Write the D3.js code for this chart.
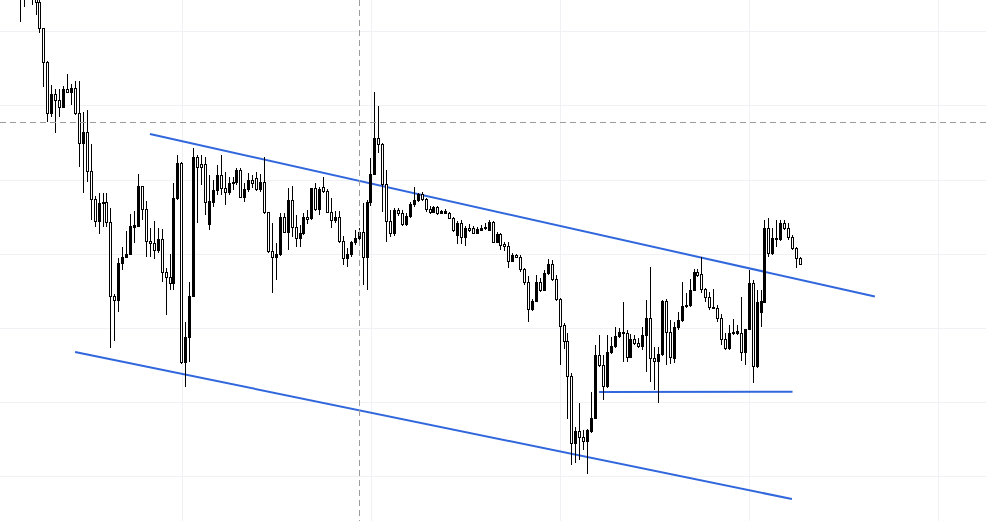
<!DOCTYPE html>
<html><head><meta charset="utf-8">
<script src="https://cdn.jsdelivr.net/npm/d3@7"></script>
<style>html,body{margin:0;padding:0;background:#fff;overflow:hidden}</style>
</head><body><svg id="chart" width="986" height="521"></svg>
<script>
// price units (arbitrary), bar index 0..198
const opens = [551,536,526,541,524,519,493,459,408,427, 421,414,432,429,433,408,378,389,350,322, 300,319,319,299,225,221,258,264,267,294, 295,335,312,280,278,271,282,249,244,238, 323,358,159,184,225,364,357,357,297,319, 331,346,333,329,338,339,351,324,332,341, 343,332,339,309,270,264,267,304,289,321, 294,283,288,304,303,333,312,334,330,309, 301,304,280,263,267,279,283,289,264,319, 347,383,377,337,300,288,311,308,297,305, 317,321,327,322,312,309,314,308,308,308, 303,286,298,284,293,293,288,291,293,291, 299,279,287,277,275,260,266,264,252,239, 212,220,239,231,248,257,242,222,196,180, 145,78,90,84,80,90,103,166,156,135, 169,175,185,189,188,164,182,178,175,186, 203,163,160,167,220,189,163,194,201,215, 216,231,249,247,232,224,214,213,203,182, 173,189,188,188,169,192,238,155,209,219, 293,268,283,282,298,293,284,273,263];
const highs = [556,541,548,546,531,523,493,460,436,432, 432,435,447,437,440,440,409,411,377,325, 328,328,328,313,227,263,274,290,307,310, 347,335,320,293,300,293,292,253,267,338, 366,359,199,239,373,366,366,364,346,341, 356,366,349,344,344,353,353,338,348,346, 349,347,364,309,298,278,308,308,333,335, 306,296,308,311,333,338,334,344,332,323, 310,310,285,273,280,291,293,318,321,363, 429,415,378,351,311,313,313,311,308,319, 334,328,329,323,315,315,315,311,312,309, 304,300,301,295,297,295,294,296,298,301, 300,289,288,279,279,268,267,266,253,245, 222,246,243,251,262,261,246,223,198,188, 148,94,118,91,92,129,176,186,166,186, 184,194,193,219,191,187,186,183,194,221, 254,174,174,221,222,201,199,209,239,228, 242,252,252,264,233,229,232,216,207,188, 196,202,196,224,192,251,241,231,231,301, 303,293,301,301,301,298,286,274,264];
const lows = [499,514,522,516,506,488,434,399,404,388, 404,413,429,416,406,354,328,339,301,294, 287,294,294,173,180,209,251,264,266,278, 295,301,264,264,262,268,239,206,231,231, 321,157,134,159,224,298,336,306,291,314, 326,326,316,326,331,336,323,319,329,333, 330,329,307,268,228,241,265,288,271,284, 274,274,286,297,301,310,306,328,308,293, 298,278,256,254,264,276,280,236,231,315, 346,368,309,279,284,285,305,295,295,303, 314,319,320,309,307,308,306,307,307,302, 289,277,277,275,289,287,287,290,291,290, 278,278,271,270,253,259,263,249,236,199, 210,219,229,230,246,240,220,156,172,102, 56,58,61,71,47,88,102,154,121,133, 167,173,183,159,159,163,176,173,171,149, 139,131,118,165,156,157,158,191,199,213, 214,230,244,228,219,211,212,199,176,171, 171,186,186,160,156,191,138,153,194,218, 264,266,274,280,291,281,271,253,256];
const closes = [531,526,540,529,519,493,459,408,427,421, 414,432,429,433,408,378,389,350,322,300, 318,318,299,225,221,258,264,267,295,296, 335,312,280,278,271,282,249,244,238,323, 358,159,184,225,364,354,354,319,320,331, 346,333,329,338,339,351,324,332,341,338, 332,339,309,270,264,267,304,289,321,294, 283,288,304,302,333,312,332,330,309,301, 304,280,263,267,279,283,289,264,319,347, 383,377,337,300,288,311,308,297,305,317, 321,327,322,312,309,314,308,310,310,303, 291,298,284,293,291,288,292,293,294,299, 279,287,276,275,260,266,264,252,239,212, 220,239,231,248,257,242,222,195,180,145, 78,90,84,80,91,103,166,156,135,169, 175,185,189,188,164,182,178,175,186,203, 163,160,167,220,189,164,194,201,215,216, 231,249,246,232,224,214,213,203,182,173, 188,188,190,169,192,238,155,219,220,293, 268,283,282,298,293,284,273,263,257];

const gridLevels = [45,119,193,267,341,416,490];
const gridBars = [41,89,137,185,233];
const crossBar = 86, crossLevel = 399;
// drawn lines: [barIndex, price]
const upperChannel = [[32.9,387],[216.9,224.5]];
const lowerChannel = [[13.9,169],[195.85,22]];
const supportLine = [[146.9,129],[196.0,129.3]];

const W = 986, H = 521;
const x = d3.scaleLinear().domain([0,198]).range([20.3,800.4]);
const y = d3.scaleLinear().domain([0,521]).range([521,0]);
const svg = d3.select('#chart');
svg.append('rect').attr('width',W).attr('height',H).attr('fill','#ffffff');

const grid = svg.append('g').attr('shape-rendering','crispEdges').attr('stroke','#f0f1f4').attr('stroke-width',1);
grid.selectAll('line.h').data(gridLevels).join('line').attr('class','h')
  .attr('x1',0).attr('x2',W).attr('y1',d=>Math.round(y(d))+0.5).attr('y2',d=>Math.round(y(d))+0.5);
grid.selectAll('line.v').data(gridBars).join('line').attr('class','v')
  .attr('y1',0).attr('y2',H).attr('x1',d=>Math.round(x(d))+0.5).attr('x2',d=>Math.round(x(d))+0.5);

const lineGen = d3.line().x(d=>x(d[0])).y(d=>y(d[1]));
const blue = '#3167dc';
[upperChannel, lowerChannel, supportLine].forEach(seg=>{
  svg.append('path').attr('d',lineGen(seg)).attr('fill','none').attr('stroke',blue).attr('stroke-width',2);
});

const data = opens.map((o,i)=>({i,o,h:highs[i],l:lows[i],c:closes[i]}));
const g = svg.append('g').attr('shape-rendering','crispEdges');
const col = d=>Math.floor(x(d.i));
g.selectAll('line.wick').data(data).join('line').attr('class','wick')
  .attr('x1',d=>col(d)+0.5).attr('x2',d=>col(d)+0.5)
  .attr('y1',d=>y(Math.max(d.h,d.o,d.c))).attr('y2',d=>y(Math.min(d.l,d.o,d.c)))
  .attr('stroke','#000').attr('stroke-width',1);
g.selectAll('rect.body').data(data).join('rect').attr('class','body')
  .attr('x',d=>col(d)-0.5).attr('width',2)
  .attr('y',d=>Math.round(y(Math.max(d.o,d.c)))+0.5)
  .attr('height',d=>Math.max(1,Math.round(Math.abs(y(d.o)-y(d.c)))))
  .attr('fill',d=>d.c>d.o?'#000':'#fff').attr('stroke','#000').attr('stroke-width',1);

const cross = svg.append('g').attr('stroke','#9c9c9c').attr('stroke-width',1).attr('stroke-dasharray','6,4').attr('shape-rendering','crispEdges');
cross.append('line').attr('x1',0).attr('x2',W).attr('y1',Math.round(y(crossLevel))+0.5).attr('y2',Math.round(y(crossLevel))+0.5);
cross.append('line').attr('y1',0).attr('y2',H).attr('x1',Math.round(x(crossBar))+0.5).attr('x2',Math.round(x(crossBar))+0.5);
</script></body></html>
